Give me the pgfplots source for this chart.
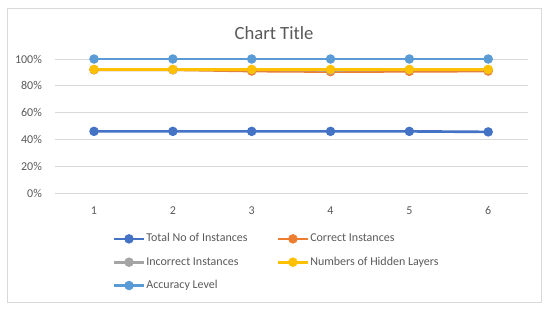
\documentclass[border=0pt]{standalone}
\usepackage{fontspec}
\setmainfont{Carlito}
\usepackage{pgfplots}
\pgfplotsset{compat=1.18}
\definecolor{cTot}{HTML}{4472C4}
\definecolor{cCor}{HTML}{ED7D31}
\definecolor{cInc}{HTML}{A5A5A5}
\definecolor{cHid}{HTML}{FFC000}
\definecolor{cAcc}{HTML}{5B9BD5}
\definecolor{txt}{HTML}{595959}
\definecolor{gridc}{HTML}{D9D9D9}
\begin{document}
\begin{tikzpicture}
\useasboundingbox (0pt,0pt) rectangle (412.5pt,-232.5pt);
\draw[gridc, line width=0.6pt] (5.25pt,-6pt) rectangle (405.75pt,-226.5pt);
\node[txt, font=\fontsize{14}{16}\selectfont] at (205.5pt,-24.75pt) {Chart Title};
\begin{axis}[
  at={(40.95pt,-144.75pt)}, anchor=south west,
  scale only axis, width=354.75pt, height=100.5pt,
  xmin=0.5, xmax=6.5, ymin=0, ymax=100,
  xtick={1,2,3,4,5,6},
  ytick={0,20,40,60,80,100},
  yticklabel={\pgfmathprintnumber{\tick}\%},
  /pgf/number format/assume math mode=true,
  tick label style={txt, font=\fontsize{9}{10}\selectfont},
  yticklabel style={xshift=-6pt},
  xticklabel style={yshift=-6.5pt},
  major tick length=0pt,
  axis line style={draw=none},
  ymajorgrids, major grid style={gridc, line width=0.6pt},
  clip=false,
  every axis plot/.append style={line width=2pt, mark=*, mark size=2.5pt},
  legend columns=2,
  legend cell align=left,
  legend image code/.code={\draw[mark repeat=2,mark phase=2,#1] plot coordinates {(0pt,0pt)(11pt,0pt)(22pt,0pt)};},
  legend style={at={(0.1235,-0.30)}, anchor=north west, draw=none, fill=none,
    inner sep=0pt, outer sep=0pt, row sep=9pt,
    font=\fontsize{9}{10}\selectfont, text=txt,
    nodes={inner xsep=1pt, inner ysep=0pt, text height=6.5pt, text depth=2pt},
    /tikz/every even column/.append style={column sep=21pt}},
]
\addplot[cTot, mark options={fill=cTot}] coordinates {(1,46)(2,46)(3,46)(4,46)(5,46)(6,45.6)};
\addlegendentry{Total No of Instances}
\addplot[cCor, mark options={fill=cCor}] coordinates {(1,92)(2,92)(3,91)(4,90.6)(5,90.8)(6,91)};
\addlegendentry{Correct Instances}
\addplot[cInc, mark options={fill=cInc}] coordinates {(1,92)(2,92)(3,92)(4,91.6)(5,92)(6,92)};
\addlegendentry{Incorrect Instances}
\addplot[cHid, mark options={fill=cHid}] coordinates {(1,92.2)(2,92.2)(3,92.2)(4,92.2)(5,92.2)(6,92.2)};
\addlegendentry{Numbers of Hidden Layers}
\addplot[cAcc, mark options={fill=cAcc}] coordinates {(1,100)(2,100)(3,100)(4,100)(5,100)(6,100)};
\addlegendentry{Accuracy Level}
\end{axis}
\end{tikzpicture}
\end{document}
